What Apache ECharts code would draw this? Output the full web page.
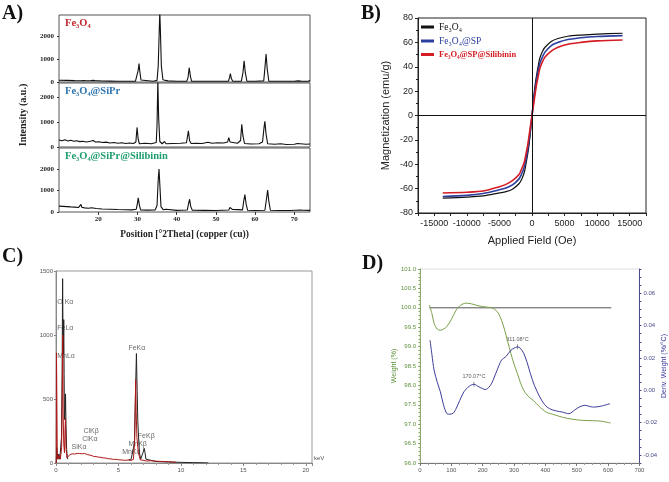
<!DOCTYPE html>
<html>
<head>
<meta charset="utf-8">
<script src="https://cdn.jsdelivr.net/npm/echarts@6/dist/echarts.min.js"></script>
<style>
  html, body { margin: 0; padding: 0; background: #fff; }
  #main { width: 669px; height: 482px; }
</style>
</head>
<body>
<div id="main"></div>
<script>
// A) XRD patterns, [2theta, intensity]
const xrdFe3O4 = [[10,80],[12,70],[14,60],[15.5,55],[16.3,60],[16.6,95],[16.9,55],[18,55],[18.6,70],[18.9,130],[19.2,60],[21,45],[23,40],[25,35],[27,35],[29.5,35],[29.9,120],[30.2,520],[30.4,810],[30.6,480],[30.9,90],[31.3,35],[34,35],[35.0,70],[35.3,700],[35.55,2200],[35.7,3100],[35.85,2300],[36.1,700],[36.5,100],[37.2,70],[37.5,120],[37.8,50],[40,35],[42.6,40],[42.9,200],[43.2,630],[43.5,260],[43.8,40],[47,30],[50,30],[53.2,40],[53.5,200],[53.7,375],[53.95,150],[54.3,35],[56.5,40],[56.9,400],[57.2,930],[57.5,420],[57.9,40],[60,30],[62.2,50],[62.5,600],[62.8,1230],[63.1,560],[63.5,40],[66,30],[70,30],[70.9,50],[71.3,90],[71.7,40],[73.5,35],[74,70]];
const xrdSiPr = [[10,280],[10.8,250],[11.5,290],[12.3,240],[13,270],[13.8,230],[14.5,250],[15.3,215],[16,230],[17,200],[18,230],[18.7,260],[19.3,200],[20.3,210],[21,180],[22,195],[23,160],[24,180],[25,150],[26,170],[27,140],[28,160],[29,140],[29.6,200],[29.9,780],[30.2,300],[30.5,130],[32,150],[33.5,130],[34.8,180],[35.0,900],[35.2,2700],[35.4,1200],[35.7,220],[36.3,130],[36.9,220],[37.3,130],[39,140],[41,150],[42.5,170],[42.8,450],[43.0,640],[43.3,250],[43.7,140],[45,150],[46.5,140],[48,190],[49,150],[50.5,170],[52,160],[53,200],[53.3,375],[53.6,200],[54,140],[55.5,150],[56.3,260],[56.6,900],[56.9,450],[57.3,140],[59,120],[61,130],[61.9,200],[62.3,800],[62.5,1020],[62.8,500],[63.2,130],[65,110],[66.5,130],[68,100],[70,110],[70.8,140],[71.3,100],[73,110],[74,120]];
const xrdSilibinin = [[10,270],[11,260],[12,250],[13,235],[14,225],[15,210],[15.4,230],[15.6,350],[15.8,220],[16.5,190],[17.5,170],[18.3,200],[18.6,180],[19.5,160],[21,140],[23,130],[25,115],[27,105],[28.5,100],[29.7,130],[30.0,400],[30.2,650],[30.5,320],[30.8,100],[32.5,85],[34.5,90],[35.0,300],[35.3,1500],[35.5,1990],[35.7,1300],[36.0,250],[36.6,100],[37.3,130],[37.7,80],[40,75],[42.7,90],[43.0,350],[43.3,590],[43.6,250],[44,80],[47,75],[50,70],[53.3,90],[53.6,210],[53.9,265],[54.2,120],[54.6,70],[56.8,100],[57.1,500],[57.4,810],[57.7,380],[58.1,80],[60,70],[62.5,80],[62.9,600],[63.2,1010],[63.5,500],[63.9,80],[66,70],[69,70],[71.5,90],[71.9,125],[72.3,80],[74,75]];
const xrdTitles = ['Fe₃O₄', 'Fe₃O₄@SiPr', 'Fe₃O₄@SiPr@Silibinin'];

// B) VSM hysteresis, [field (Oe), magnetization (emu/g)]
const vsmNames = ['Fe₃O₄', 'Fe₃O₄@SP', 'Fe₃O₄@SP@Silibinin'];
const vsmFe3O4 = [[-13700,-67.8],[-10000,-67],[-7500,-66],[-5000,-63.5],[-4000,-62.5],[-3000,-60.5],[-2000,-56],[-1600,-52.5],[-1200,-47],[-1000,-42],[-700,-33],[-500,-26],[-300,-17],[-150,-9],[0,0],[150,9],[300,17],[500,26],[700,33],[1000,42],[1200,47],[1600,52.5],[2000,56],[3000,61],[4000,63.2],[5500,65],[7500,66],[10000,66.8],[13900,67.5]];
const vsmSP = [[-13700,-66.4],[-10000,-65.5],[-7500,-64],[-5000,-61],[-4000,-59.5],[-3000,-57],[-2000,-52],[-1600,-48],[-1200,-42.6],[-1000,-38],[-700,-29.5],[-500,-22],[-300,-14],[-150,-7],[0,0],[150,7],[300,14],[500,22],[700,29.5],[1000,38],[1200,42.6],[1600,48],[2000,52],[3000,57.6],[4000,60],[5500,62.3],[7500,63.8],[10000,64.8],[13900,65.5]];
const vsmSilibinin = [[-13700,-63.6],[-10000,-63],[-7500,-62],[-5000,-58.5],[-4000,-56.5],[-3000,-53.5],[-2000,-48.5],[-1600,-44],[-1200,-38.6],[-1000,-33.5],[-700,-25.5],[-500,-18.5],[-300,-11],[-150,-5.5],[0,0],[150,5.5],[300,11],[500,18.5],[700,25.5],[1000,33.5],[1200,38.6],[1600,44],[2000,48],[3000,53],[4000,56],[5500,58.5],[7500,60],[10000,61.2],[13900,62]];

// C) EDS spectrum, [keV, counts]
const edsPeaks = [[0,0],[0.03,20],[0.06,120],[0.1,60],[0.15,30],[0.22,70],[0.3,30],[0.38,40],[0.44,200],[0.49,700],[0.53,1440],[0.56,1000],[0.59,850],[0.62,1120],[0.65,700],[0.68,340],[0.72,380],[0.76,540],[0.8,300],[0.85,110],[0.9,45],[0.95,30],[1.0,45],null,[5.8,25],[5.9,40],[6.0,25],[6.15,30],[6.28,150],[6.36,520],[6.44,855],[6.5,560],[6.55,330],[6.6,230],[6.68,80],[6.78,30],[6.9,40],[6.98,85],[7.06,115],[7.13,80],[7.2,30],[7.35,15],[8,12],[9,8],[10,5],[11,3],[12,1],[12.2,0]];
const edsBackground = [[0.02,0],[0.04,860],[0.07,500],[0.1,80],[0.16,30],[0.25,60],[0.35,30],[0.45,120],[0.5,550],[0.54,1000],[0.57,400],[0.62,150],[0.68,80],[0.72,250],[0.76,350],[0.8,120],[0.88,40],[0.95,30],[1.0,50],[1.1,65],[1.2,60],[1.3,72],[1.4,62],[1.5,70],[1.6,65],[1.7,75],[1.8,68],[1.9,74],[2.0,66],[2.1,72],[2.2,64],[2.3,74],[2.4,62],[2.5,66],[2.6,58],[2.8,60],[3.0,52],[3.2,50],[3.4,46],[3.6,44],[3.8,40],[4.0,38],[4.2,33],[4.4,32],[4.6,28],[4.8,29],[5.0,25],[5.2,24],[5.4,22],[5.6,21],[5.8,24],[5.9,30],[6.0,20],[6.2,28],[6.3,180],[6.38,650],[6.42,400],[6.48,200],[6.6,80],[6.75,25],[7.3,15],[7.6,18],[8.0,14],[8.5,12],[9.0,10],[9.6,6]];
const edsLabels = [
  {name: 'O Kα', value: [0.1, 1255]},
  {name: 'FeLα', value: [0.1, 1058]},
  {name: 'MnLα', value: [0.1, 836]},
  {name: 'FeKα', value: [5.8, 899]},
  {name: 'ClKβ', value: [2.2, 251]},
  {name: 'ClKα', value: [2.1, 186]},
  {name: 'SiKα', value: [1.25, 125]},
  {name: 'MnKβ', value: [5.8, 147]},
  {name: 'MnKα', value: [5.3, 84]},
  {name: 'FeKβ', value: [6.55, 209]}
];

// D) TGA, [temperature, weight %] and [temperature, deriv weight]
const tgaWeight = [[30,100.07],[38,99.85],[45,99.6],[55,99.45],[65,99.42],[75,99.45],[86,99.52],[100,99.7],[116,99.95],[130,100.07],[147,100.12],[165,100.1],[188,100.05],[210,100.02],[229,100.0],[240,99.95],[250,99.86],[260,99.68],[270,99.43],[280,99.12],[290,98.82],[300,98.55],[311,98.3],[320,98.08],[331,97.87],[345,97.72],[362,97.61],[380,97.46],[403,97.31],[430,97.24],[454,97.18],[485,97.13],[516,97.1],[550,97.09],[577,97.08],[590,97.06],[608,97.03]];
const tgaDeriv = [[32,0.031],[38,0.022],[45,0.0124],[55,0.005],[65,-0.001],[75,-0.009],[86,-0.0145],[95,-0.0148],[106,-0.0142],[116,-0.011],[127,-0.0062],[140,-0.001],[157,0.0025],[172,0.0037],[188,0.0021],[200,0.001],[208,0.0004],[218,0.0015],[229,0.0044],[245,0.012],[260,0.0186],[275,0.021],[290,0.0248],[300,0.026],[311,0.0269],[320,0.026],[331,0.0228],[342,0.017],[352,0.0104],[365,0.003],[382,-0.0041],[398,-0.009],[413,-0.0114],[435,-0.0128],[454,-0.0135],[475,-0.0145],[495,-0.012],[510,-0.0102],[526,-0.0093],[545,-0.0102],[557,-0.0104],[578,-0.0098],[606,-0.0083]];
const tgaBaseline = [[30,100],[610,100]];
const tgaPeaks = [{name: '170.07°C', value: [172, 0.0037]}, {name: '311.08°C', value: [311, 0.0269]}];

const serif = 'Liberation Serif';
const sans = 'Liberation Sans';
const xrdColors = ['#c0272d', '#2e75b0', '#1f9e6e'];
const vsmColors = ['#111111', '#2c3e9e', '#d41c24'];
const plain = v => String(v);

const chart = echarts.init(document.getElementById('main'));

// three stacked XRD panels
const xrdGrids = [
  {left: 59, top: 15, width: 251, height: 67},
  {left: 59, top: 83, width: 251, height: 64},
  {left: 59, top: 148, width: 251, height: 64}
];
const xrdMax = [2950, 2550, 2960];

function xrdXAxis(i) {
  const last = i === 2;
  return {
    type: 'value', gridIndex: i, min: 10, max: 74, interval: 10,
    axisLine: {show: false, onZero: false},
    axisTick: {show: last, length: 3, lineStyle: {color: '#333'}},
    splitLine: {show: false},
    axisLabel: {show: last, showMinLabel: false, showMaxLabel: false, margin: 4, formatter: plain,
      fontFamily: serif, fontWeight: 'bold', fontSize: 7, color: '#222'},
    name: last ? 'Position [°2Theta] (copper (cu))' : '',
    nameLocation: 'middle', nameGap: 18,
    nameTextStyle: {fontFamily: serif, fontWeight: 'bold', fontSize: 9.5, color: '#222'}
  };
}

function xrdYAxis(i) {
  return {
    type: 'value', gridIndex: i, min: 0, max: xrdMax[i], interval: 1000,
    axisLine: {show: false, onZero: false},
    axisTick: {show: true, length: 2, lineStyle: {color: '#333'}},
    splitLine: {show: false},
    axisLabel: {showMaxLabel: false, margin: 5, formatter: plain,
      fontFamily: serif, fontWeight: 'bold', fontSize: 7, color: '#222'},
    name: i === 1 ? 'Intensity (a.u.)' : '',
    nameLocation: 'middle', nameGap: 31,
    nameTextStyle: {fontFamily: serif, fontWeight: 'bold', fontSize: 10, color: '#222'}
  };
}

const smallSans = {fontFamily: sans, fontSize: 6, color: '#555'};

const option = {
  backgroundColor: '#fff',
  animation: false,
  title: [
    {text: 'A)', left: 2, top: 4, padding: 0, textStyle: {fontFamily: serif, fontWeight: 'bold', fontSize: 20, color: '#111'}},
    {text: 'B)', left: 361, top: 4, padding: 0, textStyle: {fontFamily: serif, fontWeight: 'bold', fontSize: 20, color: '#111'}},
    {text: 'C)', left: 2, top: 247, padding: 0, textStyle: {fontFamily: serif, fontWeight: 'bold', fontSize: 20, color: '#111'}},
    {text: 'D)', left: 362, top: 254, padding: 0, textStyle: {fontFamily: serif, fontWeight: 'bold', fontSize: 20, color: '#111'}},
    ...xrdTitles.map((t, i) => ({
      text: t, left: 65, top: xrdGrids[i].top + 3, padding: 0,
      textStyle: {fontFamily: serif, fontWeight: 'bold', fontSize: 10.5, color: xrdColors[i]}
    }))
  ],
  legend: {
    orient: 'vertical', left: 421, top: 22, itemGap: 4, padding: 0,
    itemWidth: 13, itemHeight: 3, icon: 'rect',
    data: vsmNames.map((n, i) => ({
      name: n,
      textStyle: {fontFamily: serif, fontSize: i === 2 ? 8.5 : 9.5, fontWeight: i === 2 ? 'bold' : 'normal', color: vsmColors[i]}
    }))
  },
  grid: [
    ...xrdGrids.map(g => Object.assign({show: true, borderColor: '#555', borderWidth: 1, containLabel: false}, g)),
    {left: 418, top: 18, width: 228, height: 195, show: true, borderColor: '#222', borderWidth: 1},
    {left: 56, top: 271, width: 256, height: 192, show: true, borderColor: '#999', borderWidth: 1},
    {left: 420, top: 269, width: 228, height: 194, show: true, borderColor: '#ddd', borderWidth: 1}
  ],
  xAxis: [
    xrdXAxis(0), xrdXAxis(1), xrdXAxis(2),
    {
      type: 'value', gridIndex: 3, min: -17500, max: 17500, interval: 2500,
      axisLine: {onZero: false, lineStyle: {color: '#222'}},
      axisTick: {length: 3, lineStyle: {color: '#222'}},
      splitLine: {show: false},
      axisLabel: {
        margin: 6, fontFamily: sans, fontSize: 9, color: '#222',
        formatter: v => (v % 5000 === 0 && Math.abs(v) <= 15000) ? String(v) : ''
      },
      name: 'Applied Field (Oe)', nameLocation: 'middle', nameGap: 22,
      nameTextStyle: {fontFamily: sans, fontSize: 11, color: '#222'}
    },
    {
      type: 'value', gridIndex: 4, min: 0, max: 20.5, interval: 5,
      axisLine: {onZero: false, lineStyle: {color: '#888'}},
      axisTick: {length: 3, lineStyle: {color: '#888'}},
      minorTick: {show: true, splitNumber: 5, length: 2, lineStyle: {color: '#999'}},
      splitLine: {show: false},
      axisLabel: Object.assign({margin: 4, showMaxLabel: false, formatter: plain}, smallSans),
      name: 'keV', nameLocation: 'end', nameGap: 2,
      nameTextStyle: Object.assign({verticalAlign: 'bottom', padding: [0, 0, 2, 0]}, smallSans)
    },
    {
      type: 'value', gridIndex: 5, min: 0, max: 700, interval: 100,
      axisLine: {onZero: false, lineStyle: {color: '#777'}},
      axisTick: {length: 3, lineStyle: {color: '#777'}},
      minorTick: {show: true, splitNumber: 4, length: 2, lineStyle: {color: '#999'}},
      splitLine: {show: false},
      axisLabel: Object.assign({margin: 4, formatter: plain}, smallSans)
    }
  ],
  yAxis: [
    xrdYAxis(0), xrdYAxis(1), xrdYAxis(2),
    {
      type: 'value', gridIndex: 3, min: -80, max: 80, interval: 20,
      axisLine: {onZero: false, lineStyle: {color: '#222'}},
      axisTick: {length: 3, lineStyle: {color: '#222'}},
      minorTick: {show: true, splitNumber: 2, length: 2, lineStyle: {color: '#222'}},
      splitLine: {show: false},
      axisLabel: {margin: 5, fontFamily: sans, fontSize: 9, color: '#222'},
      name: 'Magnetization (emu/g)', nameLocation: 'middle', nameGap: 27,
      nameTextStyle: {fontFamily: sans, fontSize: 11, color: '#222'}
    },
    {
      type: 'value', gridIndex: 4, min: 0, max: 1500, interval: 500,
      axisLine: {onZero: false, lineStyle: {color: '#888'}},
      axisTick: {length: 2, lineStyle: {color: '#888'}},
      splitLine: {show: false},
      axisLabel: Object.assign({margin: 3, formatter: plain}, smallSans)
    },
    {
      type: 'value', gridIndex: 5, min: 96, max: 101, interval: 0.5,
      axisLine: {onZero: false, lineStyle: {color: '#8aa86a'}},
      axisTick: {length: 2, lineStyle: {color: '#8aa86a'}},
      minorTick: {show: true, splitNumber: 5, length: 1.5, lineStyle: {color: '#8aa86a'}},
      splitLine: {show: false},
      axisLabel: {margin: 4, fontFamily: sans, fontSize: 6, color: '#5d8f3a', formatter: v => v.toFixed(1)},
      name: 'Weight (%)', nameLocation: 'middle', nameGap: 16,
      nameTextStyle: {fontFamily: sans, fontSize: 7, color: '#5d8f3a'}
    },
    {
      type: 'value', gridIndex: 5, position: 'right', min: -0.045, max: 0.075, interval: 0.005,
      axisLine: {show: true, onZero: false, lineStyle: {color: '#4a4a8a'}},
      axisTick: {length: 2, lineStyle: {color: '#4a4a8a'}},
      splitLine: {show: false},
      axisLabel: {
        margin: 4, fontFamily: sans, fontSize: 6, color: '#4a4a8a',
        formatter: v => {
          const c = Math.round(v * 100);
          return (Math.abs(v * 100 - c) < 1e-6 && c % 2 === 0) ? (c / 100).toFixed(2) : '';
        }
      },
      name: 'Deriv. Weight (%/°C)', nameLocation: 'middle', nameGap: 18,
      nameTextStyle: {fontFamily: sans, fontSize: 7, color: '#3a3aa0'}
    }
  ],
  series: [
    ...[xrdFe3O4, xrdSiPr, xrdSilibinin].map((d, i) => ({
      type: 'line', xAxisIndex: i, yAxisIndex: i, data: d, showSymbol: false,
      lineStyle: {color: '#111', width: 1.1}, clip: true, silent: true
    })),
    ...[vsmFe3O4, vsmSP, vsmSilibinin].map((d, i) => ({
      name: vsmNames[i], type: 'line', xAxisIndex: 3, yAxisIndex: 3, data: d,
      showSymbol: false, smooth: 0.3, color: vsmColors[i],
      lineStyle: {color: vsmColors[i], width: i === 0 ? 1.2 : 1.6},
      markLine: i === 0 ? {
        silent: true, symbol: 'none', label: {show: false},
        lineStyle: {color: '#111', width: 1, type: 'solid'},
        data: [{xAxis: 0}, {yAxis: 0}]
      } : undefined
    })),
    {
      type: 'line', xAxisIndex: 4, yAxisIndex: 4, data: edsPeaks, showSymbol: false,
      lineStyle: {color: '#222', width: 1}, silent: true
    },
    {
      type: 'line', xAxisIndex: 4, yAxisIndex: 4, data: edsBackground, showSymbol: false,
      lineStyle: {color: '#b01818', width: 1}, silent: true
    },
    {
      type: 'scatter', xAxisIndex: 4, yAxisIndex: 4, data: edsLabels, symbolSize: 0, silent: true,
      label: {show: true, position: [0, 0], align: 'left', verticalAlign: 'middle',
        formatter: '{b}', fontFamily: sans, fontSize: 7, color: '#444'}
    },
    {
      type: 'line', xAxisIndex: 5, yAxisIndex: 5, data: tgaBaseline, showSymbol: false,
      lineStyle: {color: '#555', width: 1}, silent: true
    },
    {
      type: 'line', xAxisIndex: 5, yAxisIndex: 5, data: tgaWeight, showSymbol: false, smooth: 0.3,
      lineStyle: {color: '#7aa04a', width: 1}, silent: true
    },
    {
      type: 'line', xAxisIndex: 5, yAxisIndex: 6, data: tgaDeriv, showSymbol: false, smooth: 0.3,
      lineStyle: {color: '#3d3d9a', width: 1}, silent: true
    },
    {
      type: 'scatter', xAxisIndex: 5, yAxisIndex: 6, data: tgaPeaks, symbol: 'rect', symbolSize: [0.8, 5],
      itemStyle: {color: '#555'}, silent: true,
      label: {show: true, position: 'top', distance: 2, formatter: '{b}', fontFamily: sans, fontSize: 5.5, color: '#333'}
    }
  ]
};

chart.setOption(option);
</script>
</body>
</html>
